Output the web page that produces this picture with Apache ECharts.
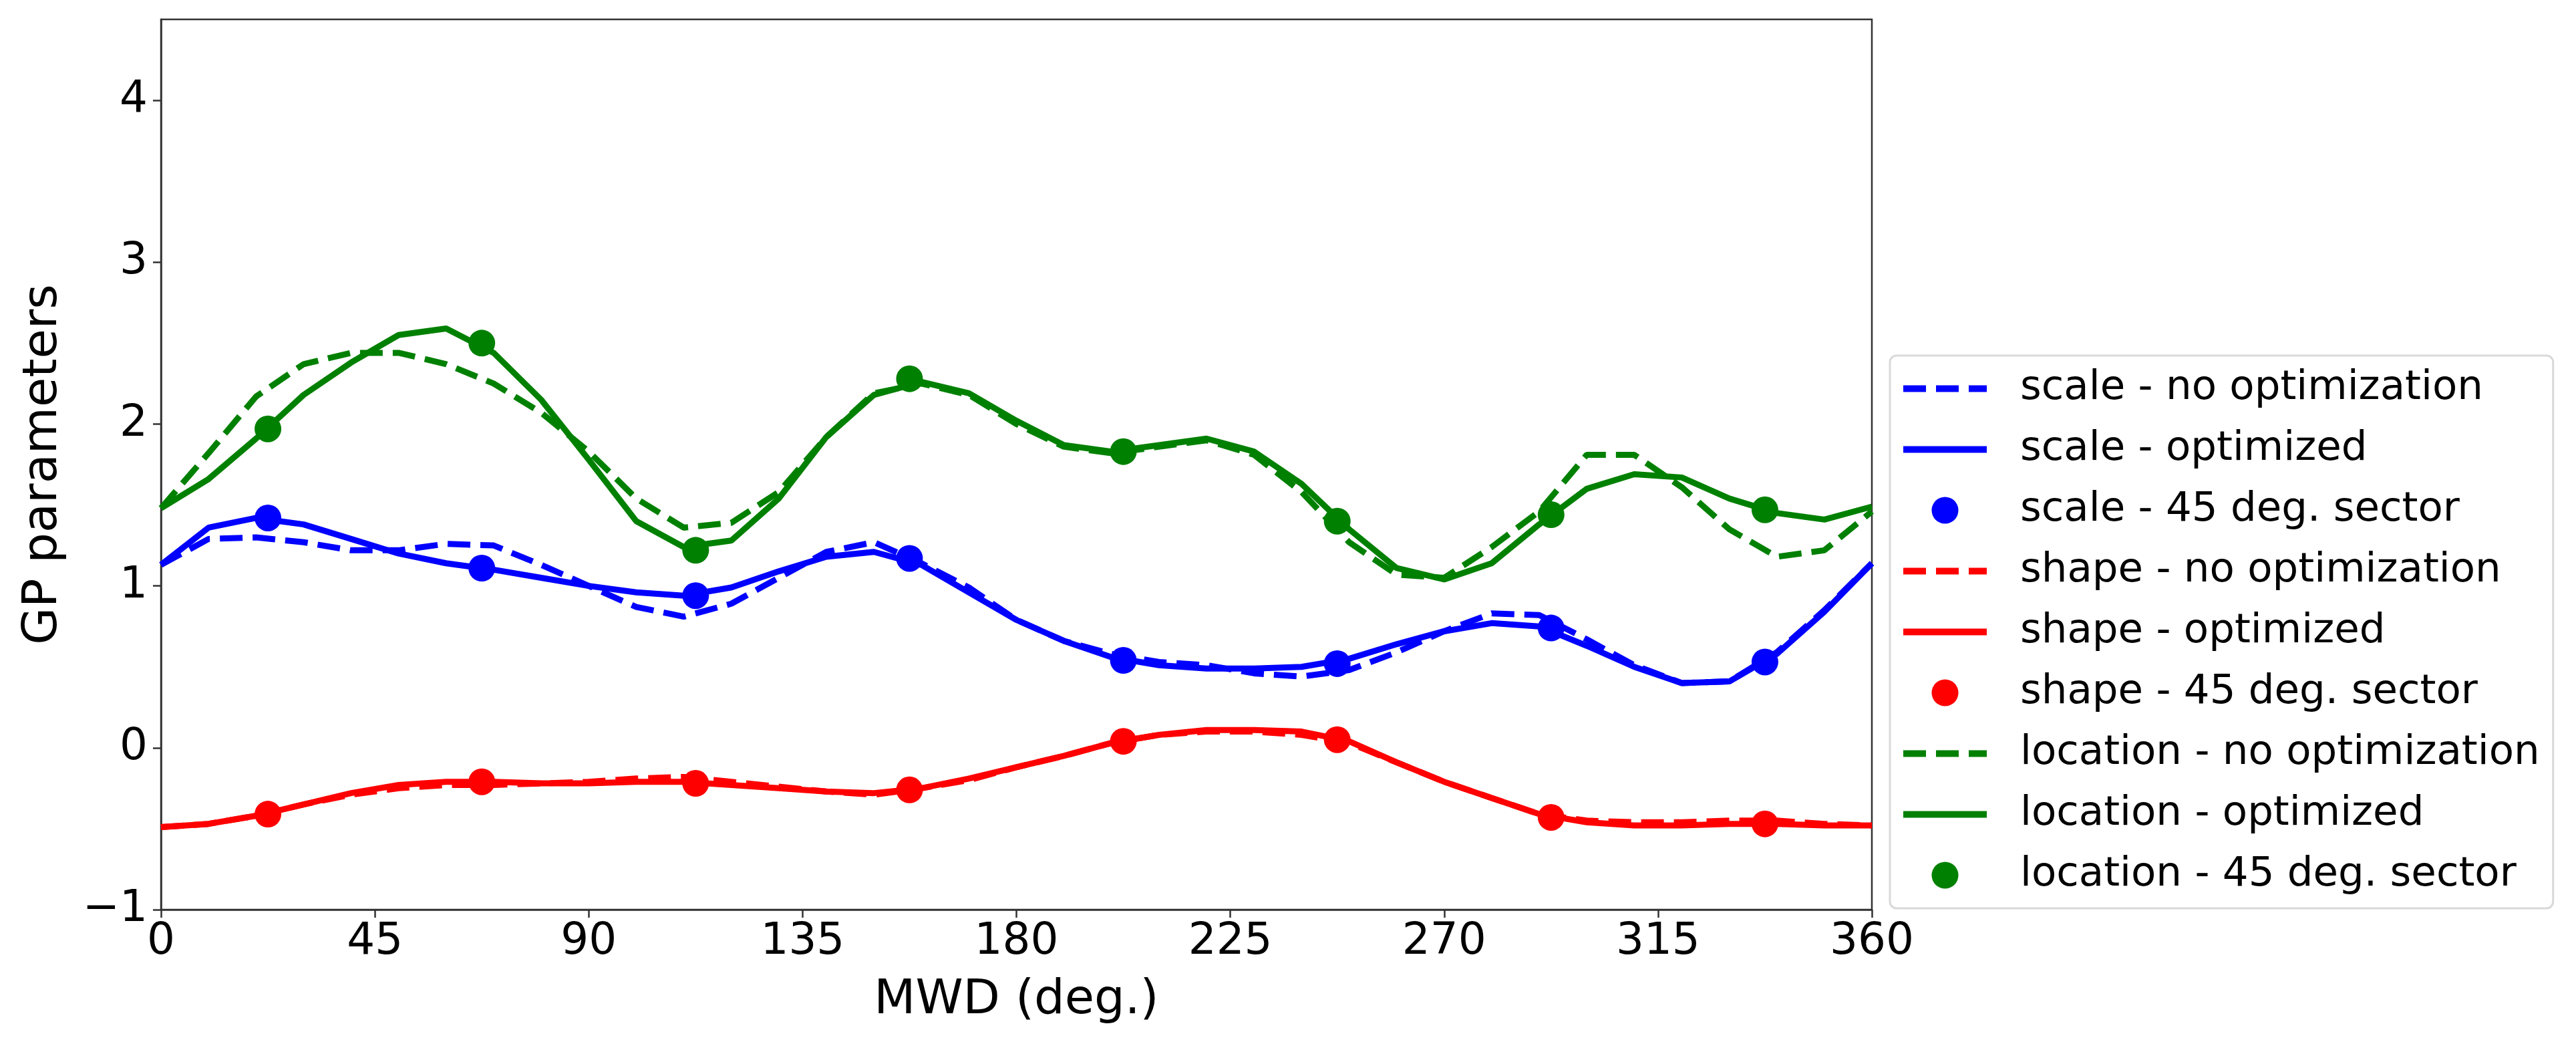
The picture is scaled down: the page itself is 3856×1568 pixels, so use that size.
<!DOCTYPE html>
<html>
<head>
<meta charset="utf-8">
<script src="https://cdn.jsdelivr.net/npm/echarts@6.0.0/dist/echarts.min.js"></script>
<style>
  html, body { margin: 0; padding: 0; background: #fff; }
  #chart { width: 3856px; height: 1568px; }
</style>
</head>
<body>
<div id="chart"></div>
<script>
// MWD grid (deg.) for the fitted curves
var mwd = [0, 10, 20, 30, 40, 50, 60, 70, 80, 90, 100, 110, 120, 130, 140, 150, 160, 170, 180,
           190, 200, 210, 220, 230, 240, 250, 260, 270, 280, 290, 300, 310, 320, 330, 340, 350, 360];
// centres of the 45 deg. sectors
var sectorMwd = [22.5, 67.5, 112.5, 157.5, 202.5, 247.5, 292.5, 337.5];

var xTicks = [0, 45, 90, 135, 180, 225, 270, 315, 360];
var yTicks = [-1, 0, 1, 2, 3, 4];

var scaleNoOpt = [1.13, 1.29, 1.30, 1.27, 1.22, 1.22, 1.26, 1.25, 1.13, 1.00, 0.87, 0.81, 0.89, 1.05, 1.21, 1.27, 1.14, 0.99, 0.79,
                  0.66, 0.58, 0.53, 0.51, 0.46, 0.44, 0.48, 0.59, 0.72, 0.83, 0.82, 0.67, 0.51, 0.40, 0.41, 0.59, 0.85, 1.14];
var scaleOpt   = [1.13, 1.36, 1.42, 1.38, 1.29, 1.20, 1.14, 1.10, 1.05, 1.00, 0.96, 0.94, 0.99, 1.09, 1.18, 1.21, 1.13, 0.96, 0.79,
                  0.66, 0.56, 0.51, 0.49, 0.49, 0.50, 0.55, 0.64, 0.72, 0.77, 0.75, 0.63, 0.50, 0.40, 0.41, 0.58, 0.84, 1.14];
var scaleSector = [1.42, 1.11, 0.94, 1.17, 0.54, 0.52, 0.74, 0.53];

var shapeNoOpt = [-0.49, -0.47, -0.42, -0.35, -0.29, -0.25, -0.23, -0.23, -0.22, -0.21, -0.19, -0.18, -0.21, -0.24, -0.27, -0.29, -0.25, -0.20, -0.12,
                  -0.05, 0.03, 0.08, 0.10, 0.10, 0.08, 0.03, -0.09, -0.21, -0.31, -0.41, -0.45, -0.46, -0.46, -0.45, -0.45, -0.47, -0.48];
var shapeOpt   = [-0.49, -0.47, -0.42, -0.35, -0.28, -0.23, -0.21, -0.21, -0.22, -0.22, -0.21, -0.21, -0.23, -0.25, -0.27, -0.28, -0.25, -0.19, -0.12,
                  -0.05, 0.03, 0.08, 0.11, 0.11, 0.10, 0.04, -0.09, -0.21, -0.31, -0.41, -0.46, -0.48, -0.48, -0.47, -0.47, -0.48, -0.48];
var shapeSector = [-0.41, -0.21, -0.22, -0.26, 0.04, 0.05, -0.43, -0.47];

var locNoOpt = [1.48, 1.82, 2.17, 2.37, 2.44, 2.44, 2.37, 2.25, 2.07, 1.83, 1.54, 1.36, 1.39, 1.58, 1.92, 2.19, 2.25, 2.18, 2.00,
                1.86, 1.82, 1.86, 1.90, 1.81, 1.58, 1.27, 1.07, 1.05, 1.24, 1.46, 1.81, 1.81, 1.61, 1.35, 1.18, 1.22, 1.46];
var locOpt   = [1.48, 1.66, 1.91, 2.18, 2.38, 2.55, 2.59, 2.44, 2.15, 1.78, 1.40, 1.24, 1.28, 1.54, 1.92, 2.18, 2.26, 2.19, 2.02,
                1.87, 1.83, 1.87, 1.91, 1.83, 1.63, 1.35, 1.11, 1.04, 1.14, 1.38, 1.60, 1.69, 1.67, 1.54, 1.45, 1.41, 1.49];
var locSector = [1.97, 2.50, 1.22, 2.28, 1.83, 1.40, 1.44, 1.47];

var FONT = 'DejaVu Sans';

// legend handles drawn like matplotlib's: dashed bar, solid bar, dot
var ICON_DASHED = 'path://M0,0H34V10H0Z M49,0H83V10H49Z M98,0H125V10H98Z';
var ICON_SOLID = 'path://M0,0H125V10H0Z';
var ICON_DOT = 'circle';

function pairs(xs, ys) {
    return xs.map(function (x, i) { return [x, ys[i]]; });
}

function lineSeries(name, color, xs, ys, dashed) {
    return {
        name: name,
        type: 'line',
        data: pairs(xs, ys),
        symbol: 'none',
        showSymbol: false,
        lineStyle: { color: color, width: 9, type: dashed ? [34, 15] : 'solid' },
        itemStyle: { color: color }
    };
}

function pointSeries(name, color, xs, ys) {
    return {
        name: name,
        type: 'scatter',
        data: pairs(xs, ys),
        symbol: 'circle',
        symbolSize: 40,
        itemStyle: { color: color, opacity: 1 }
    };
}

function legendItem(name, icon) {
    return { name: name, icon: icon };
}

function tickText(v) {
    return v < 0 ? '\u2212' + Math.abs(v) : String(v);
}

var chart = echarts.init(document.getElementById('chart'));
chart.setOption({
    animation: false,
    backgroundColor: '#fff',
    textStyle: { fontFamily: FONT },
    grid: {
        left: 241, right: 1054, top: 29, bottom: 207,
        show: true, borderColor: '#333', borderWidth: 2.5, backgroundColor: 'transparent'
    },
    xAxis: {
        type: 'value', min: 0, max: 360, interval: 45,
        name: 'MWD (deg.)', nameLocation: 'middle', nameGap: 100,
        nameTextStyle: { fontFamily: FONT, fontSize: 72, color: '#000' },
        axisLine: { show: true, onZero: false, lineStyle: { color: '#333', width: 2.5 } },
        axisTick: { show: true, length: 12, customValues: xTicks, lineStyle: { color: '#333', width: 2.5 } },
        axisLabel: { fontFamily: FONT, fontSize: 66, color: '#000', margin: 16, customValues: xTicks },
        splitLine: { show: false }
    },
    yAxis: {
        type: 'value', min: -1, max: 4.5, interval: 1,
        name: 'GP parameters', nameLocation: 'middle', nameGap: 140, nameRotate: 90,
        nameTextStyle: { fontFamily: FONT, fontSize: 72, color: '#000' },
        axisLine: { show: true, onZero: false, lineStyle: { color: '#333', width: 2.5 } },
        axisTick: { show: true, length: 12, customValues: yTicks, lineStyle: { color: '#333', width: 2.5 } },
        axisLabel: { fontFamily: FONT, fontSize: 66, color: '#000', margin: 20, customValues: yTicks, formatter: tickText },
        splitLine: { show: false }
    },
    legend: {
        orient: 'vertical',
        left: 2829, top: 532,
        padding: [19, 20, 19, 20],
        itemWidth: 125, itemHeight: 40, itemGap: 30,
        borderColor: '#d9d9d9', borderWidth: 3, borderRadius: 10,
        backgroundColor: 'rgba(255,255,255,0.8)',
        textStyle: { fontFamily: FONT, fontSize: 61, color: '#000', padding: [0, 0, 0, 45] },
        data: [
            legendItem('scale - no optimization', ICON_DASHED),
            legendItem('scale - optimized', ICON_SOLID),
            legendItem('scale - 45 deg. sector', ICON_DOT),
            legendItem('shape - no optimization', ICON_DASHED),
            legendItem('shape - optimized', ICON_SOLID),
            legendItem('shape - 45 deg. sector', ICON_DOT),
            legendItem('location - no optimization', ICON_DASHED),
            legendItem('location - optimized', ICON_SOLID),
            legendItem('location - 45 deg. sector', ICON_DOT)
        ]
    },
    series: [
        lineSeries('scale - no optimization', '#0000ff', mwd, scaleNoOpt, true),
        lineSeries('scale - optimized', '#0000ff', mwd, scaleOpt, false),
        pointSeries('scale - 45 deg. sector', '#0000ff', sectorMwd, scaleSector),
        lineSeries('shape - no optimization', '#ff0000', mwd, shapeNoOpt, true),
        lineSeries('shape - optimized', '#ff0000', mwd, shapeOpt, false),
        pointSeries('shape - 45 deg. sector', '#ff0000', sectorMwd, shapeSector),
        lineSeries('location - no optimization', '#008000', mwd, locNoOpt, true),
        lineSeries('location - optimized', '#008000', mwd, locOpt, false),
        pointSeries('location - 45 deg. sector', '#008000', sectorMwd, locSector)
    ]
});
</script>
</body>
</html>
